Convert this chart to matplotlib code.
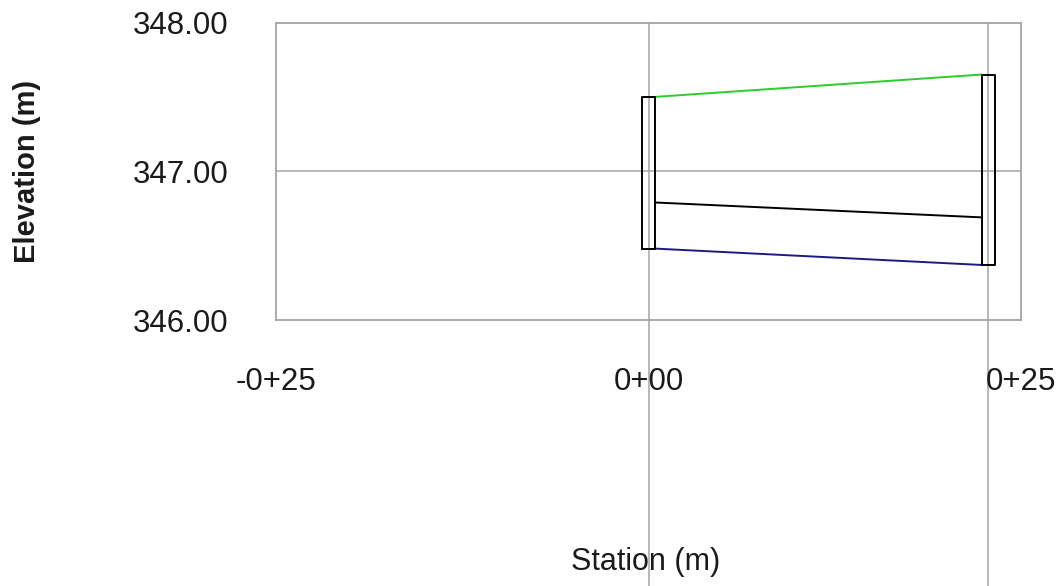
import matplotlib
matplotlib.use("Agg")
from matplotlib import pyplot as plt

plt.rcParams["font.family"] = ["Liberation Sans", "DejaVu Sans"]

# station of the two headwalls (m) and wall thickness
wall_station = [0.0, 22.8]
wall_width = 0.9
wall_top = [347.50, 347.65]
wall_bottom = [346.48, 346.37]

# profile lines between the inner wall faces
top_elev = [347.50, 347.65]     # green
mid_elev = [346.79, 346.69]     # black
invert_elev = [346.48, 346.37]  # blue

x_ticks = [-25, 0, 25]
x_tick_labels = ["-0+25", "0+00", "0+25"]
y_ticks = [346.0, 347.0, 348.0]

fig = plt.figure(figsize=(10.63, 5.86), dpi=100)
ax = fig.add_axes([276 / 1063, 1 - 320 / 586, 745 / 1063, 297.5 / 586])

grid_col = "#a4a4a4"
ax.axhline(347.0, color=grid_col, lw=1.1, zorder=1)
# station lines run from the top of the plot down past the axes
for s in wall_station:
    ax.plot([s, s], [348.0, 340.0], color=grid_col, lw=1.1, zorder=1, clip_on=False)

half = wall_width / 2
for s, t, b in zip(wall_station, wall_top, wall_bottom):
    ax.plot([s - half, s + half, s + half, s - half, s - half],
            [b, b, t, t, b], color="black", lw=1.4, zorder=3)

xs = [wall_station[0] + half, wall_station[1] - half]
ax.plot(xs, top_elev, color="#2ccc2c", lw=1.4, zorder=2)
ax.plot(xs, mid_elev, color="black", lw=1.4, zorder=2)
ax.plot(xs, invert_elev, color="#1c1c80", lw=1.4, zorder=2)

ax.set_xlim(-25, 25)
ax.set_ylim(346, 348)
ax.set_xticks(x_ticks)
ax.set_xticklabels(x_tick_labels)
ax.set_yticks(y_ticks)
ax.set_yticklabels([f"{v:.2f}" for v in y_ticks])
ax.tick_params(axis="both", length=0, labelsize=22.5, colors="#1a1a1a")
ax.tick_params(axis="x", pad=34)
ax.tick_params(axis="y", pad=34)
for sp in ax.spines.values():
    sp.set_color(grid_col)
    sp.set_linewidth(1.3)

fig.text(27 / 1063, 1 - 171 / 586, "Elevation (m)", rotation=90,
         ha="center", va="center", fontsize=21, fontweight="bold", color="#1a1a1a")
fig.text(646 / 1063, 1 - 562 / 586, "Station (m)",
         ha="center", va="center", fontsize=22, color="#1a1a1a")

fig.savefig("out.png", dpi=100, facecolor="white")
